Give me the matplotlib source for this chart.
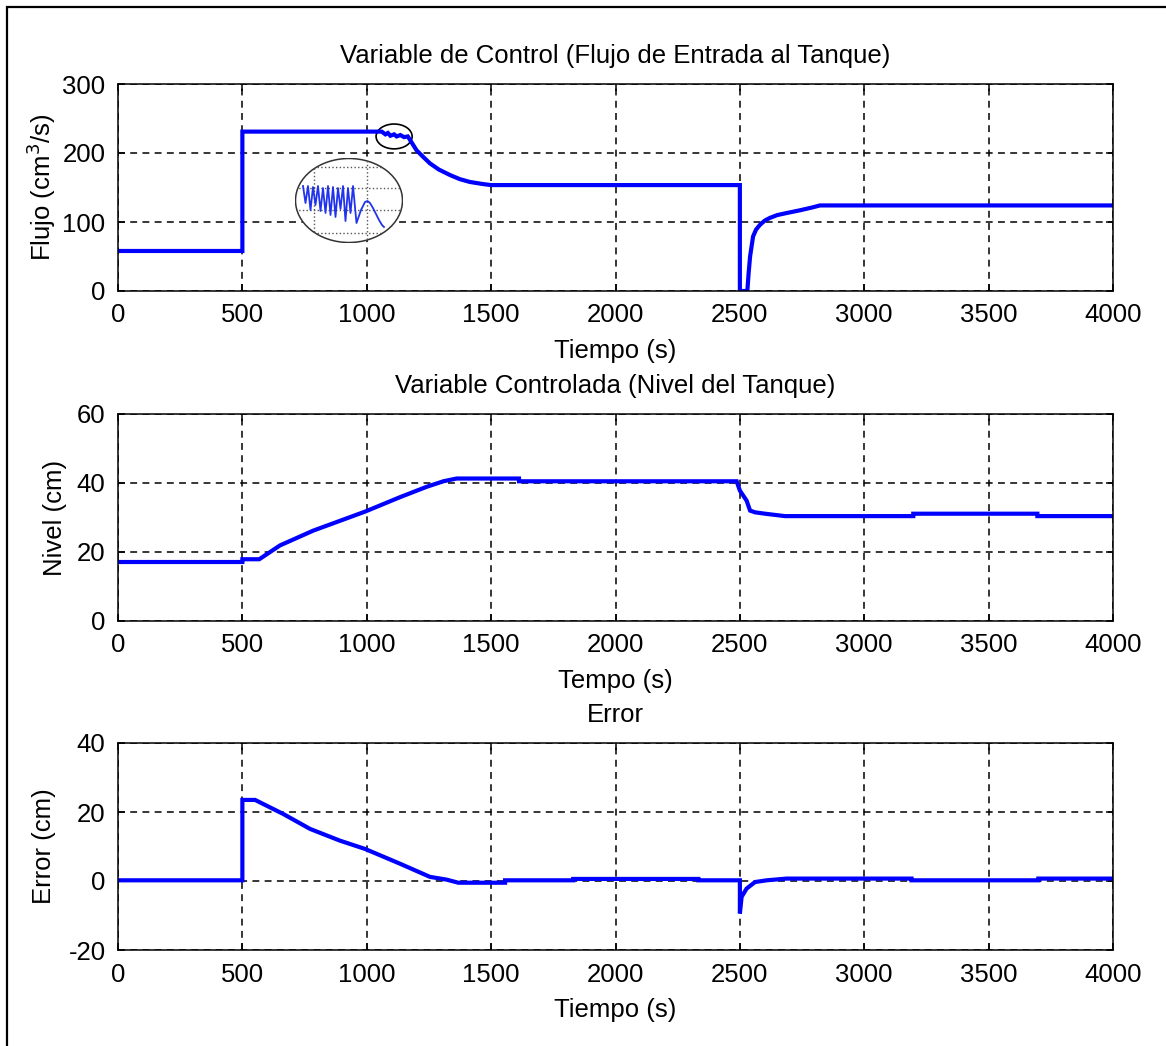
import matplotlib
matplotlib.use("Agg")
import matplotlib.pyplot as plt
from matplotlib.patches import Ellipse, Rectangle

plt.rcParams['font.family'] = ['Liberation Sans', 'DejaVu Sans']
plt.rcParams['axes.unicode_minus'] = False

# Flujo de entrada (cm^3/s)
flujo_t = [0, 500, 500, 1060, 1075, 1085, 1095, 1110, 1120, 1135, 1150, 1165, 1174, 1200,
           1225, 1254, 1290, 1335, 1375, 1415, 1467, 1500, 2500, 2500, 2530, 2535, 2541,
           2553, 2565, 2581, 2600, 2621, 2650, 2688, 2742, 2790, 2822, 2850, 4000]
flujo_v = [58, 58, 231, 231, 227, 229, 225, 227, 224, 226, 223, 224, 219, 204,
           195, 185, 176, 168, 162, 158, 155, 153.5, 153.5, 0, 0, 25, 50,
           79, 89, 96, 102, 106, 110, 113, 117, 121, 124, 124, 124]

# Nivel del tanque (cm)
nivel_t = [0, 500, 500, 568, 651, 785, 993, 1134, 1241, 1308, 1361, 1612, 1612, 2487,
           2500, 2527, 2541, 2561, 2601, 2681, 3197, 3197, 3696, 3696, 4000]
nivel_v = [17.1, 17.1, 17.9, 17.9, 21.9, 26.2, 31.7, 35.9, 38.9, 40.5, 41.3, 41.3, 40.5, 40.5,
           37.8, 34.9, 32.0, 31.5, 31.1, 30.4, 30.4, 31.1, 31.1, 30.4, 30.4]

# Error (cm)
error_t = [0, 500, 500, 551, 665, 772, 892, 993, 1134, 1254, 1321, 1368, 1556, 1556,
           1830, 1830, 2333, 2333, 2500, 2500, 2507, 2527, 2561, 2608, 2688, 3190, 3190,
           3700, 3700, 4000]
error_v = [0.2, 0.2, 23.5, 23.5, 19.4, 15.1, 11.7, 9.3, 5.0, 1.2, 0.4, -0.5, -0.5, 0.2,
           0.2, 0.6, 0.6, 0.2, 0.2, -9.4, -4.6, -2.2, -0.3, 0.2, 0.7, 0.7, 0.2,
           0.2, 0.7, 0.7]

# zoom detail of the chattering (arbitrary units inside the bubble)
zoom_x = [8, 10.5, 13, 15.5, 18, 20.5, 23, 25.5, 28, 30.5, 33, 35.5, 38, 40.5, 43, 45.5,
          48, 50.5, 53, 55.5, 58, 61.5, 66, 70, 72.5, 75, 78, 81, 84, 87, 89]
zoom_y = [57, 40, 57, 33, 56, 38, 57, 32, 55, 30, 57, 28, 56, 26, 55, 34,
          57, 22, 55, 30, 57, 20, 33, 41, 42, 40, 35, 29, 23, 18, 16]

xticks = [0, 500, 1000, 1500, 2000, 2500, 3000, 3500, 4000]

fig = plt.figure(figsize=(11.66, 10.46), dpi=100)

# outer frame
fig.patches.append(Rectangle((7 / 1166, -0.1), 1.2, 1.1 - 7 / 1046, transform=fig.transFigure,
                             fill=False, edgecolor='black', linewidth=1.6))

L, W, H = 118 / 1166, 995 / 1166, 207 / 1046
ax1 = fig.add_axes([L, 1 - 291 / 1046, W, H])
ax2 = fig.add_axes([L, 1 - 621 / 1046, W, H])
ax3 = fig.add_axes([L, 1 - 950 / 1046, W, H])

panels = [
    (ax1, flujo_t, flujo_v, (0, 300), [0, 100, 200, 300],
     'Variable de Control (Flujo de Entrada al Tanque)', 'Tiempo (s)', 'Flujo (cm$^3$/s)', 3),
    (ax2, nivel_t, nivel_v, (0, 60), [0, 20, 40, 60],
     'Variable Controlada (Nivel del Tanque)', 'Tempo (s)', 'Nivel (cm)', 7),
    (ax3, error_t, error_v, (-20, 40), [-20, 0, 20, 40],
     'Error', 'Tiempo (s)', 'Error (cm)', 9),
]

for ax, t, v, ylim, yticks, title, xlab, ylab, ypad in panels:
    ax.plot(t, v, color='#0000ff', linewidth=3.0, solid_joinstyle='miter')
    ax.set_xlim(0, 4000)
    ax.set_ylim(*ylim)
    ax.set_xticks(xticks)
    ax.set_yticks(yticks)
    ax.grid(True, color='black', linestyle=(0, (4.5, 3.5)), linewidth=1.1)
    ax.tick_params(direction='in', top=True, right=True, length=5, width=1.1,
                   labelsize=18.5, pad=9)
    for s in ax.spines.values():
        s.set_linewidth(1.1)
    ax.set_title(title, fontsize=18.5, pad=15)
    ax.set_xlabel(xlab, fontsize=18.5, labelpad=8)
    ax.set_ylabel(ylab, fontsize=18.5, labelpad=ypad)

# small ellipse around the chattering zone
ax1.add_patch(Ellipse((1110, 224), 145, 36, fill=False, edgecolor='black', linewidth=1.2))

# magnified bubble
axz = fig.add_axes([295 / 1166, 1 - 243 / 1046, 108 / 1166, 85 / 1046])
axz.set_xlim(0, 108)
axz.set_ylim(0, 85)
axz.axis('off')
bubble = Ellipse((54, 42.5), 107, 84, facecolor='white', edgecolor='#333333', linewidth=1.1)
axz.add_patch(bubble)
for yy in [10.3, 33, 54.7, 76.3]:
    ln = axz.axhline(yy, color='#555555', linestyle=':', linewidth=1.0)
    ln.set_clip_path(bubble)
for xx in [19, 71.7]:
    ln = axz.axvline(xx, color='#555555', linestyle=':', linewidth=1.0)
    ln.set_clip_path(bubble)
axz.plot(zoom_x, zoom_y, color='#2233ee', linewidth=1.3)

fig.savefig('out.png', dpi=100)
